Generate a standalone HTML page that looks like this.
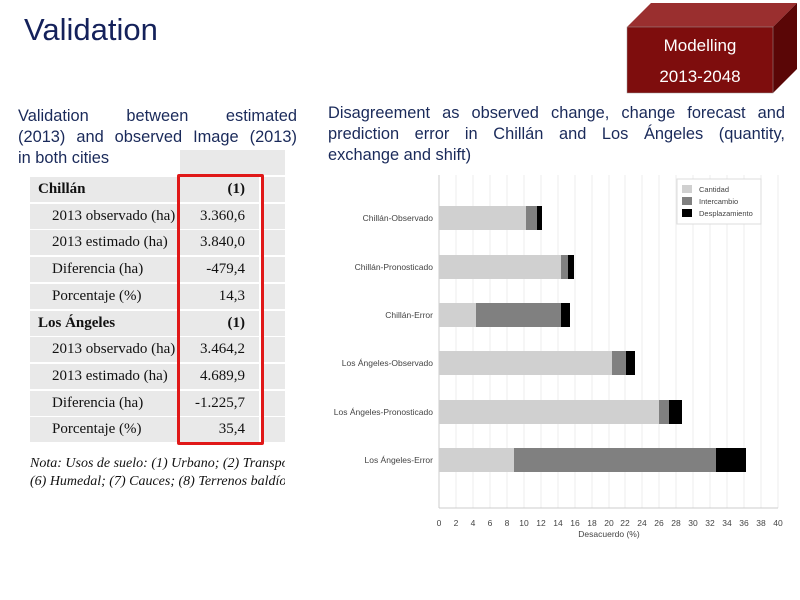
<!DOCTYPE html>
<html><head><meta charset="utf-8"><style>
body{margin:0;width:800px;height:600px;background:#fff;position:relative;overflow:hidden;font-family:"Liberation Sans",sans-serif}
.abs{position:absolute}
.p{font-size:16.4px;line-height:21px;color:#1a2a5a}
.p div{text-align:justify;text-align-last:justify;white-space:nowrap}
.p div.l{text-align-last:left}
.row{position:absolute;left:30px;width:255px;height:25px;font-family:"Liberation Serif",serif;font-size:15px;color:#111;white-space:nowrap}
.row .a{position:absolute;left:0;top:0;width:147px;height:25px;background:#e9e9e9;line-height:25px;overflow:visible}
.row .b{position:absolute;left:149px;top:0;width:66px;padding-right:14px;height:25px;background:#e9e9e9;line-height:25px;text-align:right}
.row .c{position:absolute;left:231px;top:0;width:24px;height:25px;background:#e9e9e9}
</style></head><body>
<div class="abs" style="left:24px;top:12px;font-size:31px;color:#14215a">Validation</div>

<svg class="abs" style="left:0;top:0" width="800" height="110">
<polygon points="627,27 651,3 797,3 773,27" fill="#9a2f2f"/>
<polygon points="773,27 797,3 797,69 773,93" fill="#5a0606"/>
<rect x="627" y="27" width="146" height="66" fill="#7e0d0d" stroke="#999" stroke-width="0.5"/>
<text x="700" y="51" font-size="17" fill="#fff" text-anchor="middle" font-family="Liberation Sans">Modelling</text>
<text x="700" y="82" font-size="17" fill="#fff" text-anchor="middle" font-family="Liberation Sans">2013-2048</text>
</svg>

<div class="abs p" style="left:18px;top:106px;width:279px">
<div>Validation between estimated</div>
<div>(2013) and observed Image (2013)</div>
<div class="l">in both cities</div></div>
<div class="abs p" style="left:328px;top:103px;width:457px">
<div>Disagreement as observed change, change forecast and</div>
<div>prediction error in Chillán and Los Ángeles (quantity,</div>
<div class="l">exchange and shift)</div></div>

<div class="abs" style="left:180px;top:150px;width:105px;height:25px;background:#e9e9e9"></div>
<div class="row" style="top:177px"><div class="a" style="padding-left:8px;width:139px;font-weight:bold">Chillán</div><div class="b" style="font-weight:bold">(1)</div><div class="c"></div></div>
<div class="row" style="top:204px"><div class="a" style="padding-left:22px;width:125px">2013 observado (ha)</div><div class="b">3.360,6</div><div class="c"></div></div>
<div class="row" style="top:230px"><div class="a" style="padding-left:22px;width:125px">2013 estimado (ha)</div><div class="b">3.840,0</div><div class="c"></div></div>
<div class="row" style="top:257px"><div class="a" style="padding-left:22px;width:125px">Diferencia (ha)</div><div class="b">-479,4</div><div class="c"></div></div>
<div class="row" style="top:284px"><div class="a" style="padding-left:22px;width:125px">Porcentaje (%)</div><div class="b">14,3</div><div class="c"></div></div>
<div class="row" style="top:311px"><div class="a" style="padding-left:8px;width:139px;font-weight:bold">Los Ángeles</div><div class="b" style="font-weight:bold">(1)</div><div class="c"></div></div>
<div class="row" style="top:337px"><div class="a" style="padding-left:22px;width:125px">2013 observado (ha)</div><div class="b">3.464,2</div><div class="c"></div></div>
<div class="row" style="top:364px"><div class="a" style="padding-left:22px;width:125px">2013 estimado (ha)</div><div class="b">4.689,9</div><div class="c"></div></div>
<div class="row" style="top:391px"><div class="a" style="padding-left:22px;width:125px">Diferencia (ha)</div><div class="b">-1.225,7</div><div class="c"></div></div>
<div class="row" style="top:417px"><div class="a" style="padding-left:22px;width:125px">Porcentaje (%)</div><div class="b">35,4</div><div class="c"></div></div>
<div class="abs" style="left:177px;top:174px;width:81px;height:265px;border:3px solid #e01818;border-radius:2px"></div>
<div class="abs" style="left:30px;top:455px;width:255px;font-family:'Liberation Serif',serif;font-style:italic;font-size:14px;line-height:18px;white-space:nowrap;overflow:hidden;color:#111">Nota: Usos de suelo: (1) Urbano; (2) Transporte<br>(6) Humedal; (7) Cauces; (8) Terrenos baldíos</div>

<svg class="abs" style="left:0;top:0" width="800" height="600" font-family="Liberation Sans">
<g stroke="#ececec" stroke-width="1">
<line x1="456" y1="175" x2="456" y2="508"/><line x1="473" y1="175" x2="473" y2="508"/><line x1="490" y1="175" x2="490" y2="508"/><line x1="507" y1="175" x2="507" y2="508"/><line x1="524" y1="175" x2="524" y2="508"/><line x1="541" y1="175" x2="541" y2="508"/><line x1="558" y1="175" x2="558" y2="508"/><line x1="575" y1="175" x2="575" y2="508"/><line x1="592" y1="175" x2="592" y2="508"/><line x1="609" y1="175" x2="609" y2="508"/><line x1="625" y1="175" x2="625" y2="508"/><line x1="642" y1="175" x2="642" y2="508"/><line x1="659" y1="175" x2="659" y2="508"/><line x1="676" y1="175" x2="676" y2="508"/><line x1="693" y1="175" x2="693" y2="508"/><line x1="710" y1="175" x2="710" y2="508"/><line x1="727" y1="175" x2="727" y2="508"/><line x1="744" y1="175" x2="744" y2="508"/><line x1="761" y1="175" x2="761" y2="508"/><line x1="778" y1="175" x2="778" y2="508"/>
</g>
<line x1="439" y1="175" x2="439" y2="508" stroke="#ccc"/>
<line x1="439" y1="508" x2="778" y2="508" stroke="#ccc"/>
<g>
<rect x="439" y="206" width="87" height="24" fill="#d0d0d0"/><rect x="526" y="206" width="11" height="24" fill="#808080"/><rect x="537" y="206" width="5" height="24" fill="#000"/>
<rect x="439" y="255" width="122" height="24" fill="#d0d0d0"/><rect x="561" y="255" width="7" height="24" fill="#808080"/><rect x="568" y="255" width="6" height="24" fill="#000"/>
<rect x="439" y="303" width="37" height="24" fill="#d0d0d0"/><rect x="476" y="303" width="85" height="24" fill="#808080"/><rect x="561" y="303" width="9" height="24" fill="#000"/>
<rect x="439" y="351" width="173" height="24" fill="#d0d0d0"/><rect x="612" y="351" width="14" height="24" fill="#808080"/><rect x="626" y="351" width="9" height="24" fill="#000"/>
<rect x="439" y="400" width="220" height="24" fill="#d0d0d0"/><rect x="659" y="400" width="10" height="24" fill="#808080"/><rect x="669" y="400" width="13" height="24" fill="#000"/>
<rect x="439" y="448" width="75" height="24" fill="#d0d0d0"/><rect x="514" y="448" width="202" height="24" fill="#808080"/><rect x="716" y="448" width="30" height="24" fill="#000"/>
</g>
<g font-size="8.5" fill="#444" text-anchor="end">
<text x="433" y="221">Chillán-Observado</text>
<text x="433" y="270">Chillán-Pronosticado</text>
<text x="433" y="318">Chillán-Error</text>
<text x="433" y="366">Los Ángeles-Observado</text>
<text x="433" y="415">Los Ángeles-Pronosticado</text>
<text x="433" y="463">Los Ángeles-Error</text>
</g>
<g font-size="8.5" fill="#444" text-anchor="middle">
<text x="439" y="526">0</text><text x="456" y="526">2</text><text x="473" y="526">4</text><text x="490" y="526">6</text><text x="507" y="526">8</text><text x="524" y="526">10</text><text x="541" y="526">12</text><text x="558" y="526">14</text><text x="575" y="526">16</text><text x="592" y="526">18</text><text x="609" y="526">20</text><text x="625" y="526">22</text><text x="642" y="526">24</text><text x="659" y="526">26</text><text x="676" y="526">28</text><text x="693" y="526">30</text><text x="710" y="526">32</text><text x="727" y="526">34</text><text x="744" y="526">36</text><text x="761" y="526">38</text><text x="778" y="526">40</text>
<text x="609" y="537">Desacuerdo (%)</text>
</g>
<rect x="677" y="179" width="84" height="45" fill="#fff" stroke="#ddd"/>
<rect x="682" y="185" width="10" height="8" fill="#d0d0d0"/><rect x="682" y="197" width="10" height="8" fill="#808080"/><rect x="682" y="209" width="10" height="8" fill="#000"/>
<g font-size="7.5" fill="#444"><text x="699" y="192">Cantidad</text><text x="699" y="204">Intercambio</text><text x="699" y="216">Desplazamiento</text></g>
</svg>
</body></html>
